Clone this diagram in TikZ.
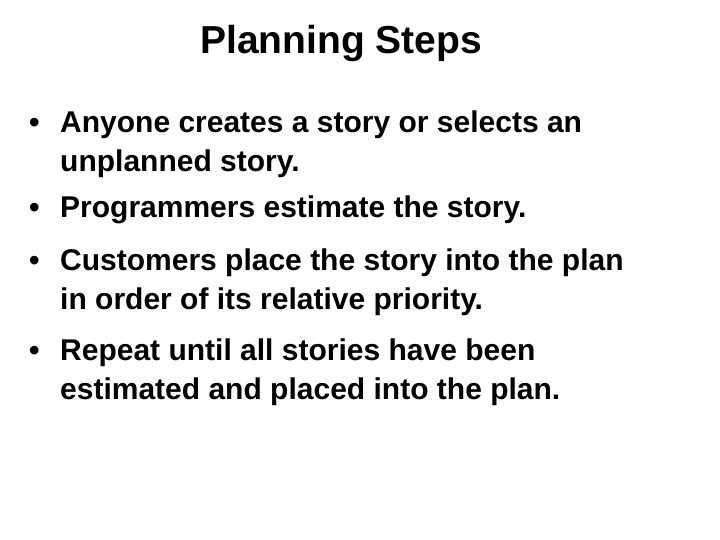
\documentclass[tikz,border=0pt]{standalone}
\usepackage{fontspec}
\setmainfont{Liberation Sans}
\begin{document}
\begin{tikzpicture}[x=1pt,y=-1pt,
  item/.style={anchor=base west,inner sep=0pt,font=\bfseries\fontsize{30}{39}\selectfont},
  bul/.style={anchor=base west,inner sep=0pt,font=\bfseries\fontsize{30}{39}\selectfont}]
\useasboundingbox (0,0) rectangle (720,540);
\node[anchor=base,inner sep=0pt,font=\bfseries\fontsize{39}{44}\selectfont] (title) at (341,54) {Planning Steps};
\node[bul] (b1) at (29,133) {•};
\node[item] (t1) at (60,133) {Anyone creates a story or selects an};
\node[item] (t1b) at (60,172) {unplanned story.};
\node[bul] (b2) at (29,218) {•};
\node[item] (t2) at (60,218) {Programmers estimate the story.};
\node[bul] (b3) at (29,270) {•};
\node[item] (t3) at (60,270) {Customers place the story into the plan};
\node[item] (t3b) at (60,309) {in order of its relative priority.};
\node[bul] (b4) at (29,360) {•};
\node[item] (t4) at (60,360) {Repeat until all stories have been};
\node[item] (t4b) at (60,399) {estimated and placed into the plan.};
\end{tikzpicture}
\end{document}
